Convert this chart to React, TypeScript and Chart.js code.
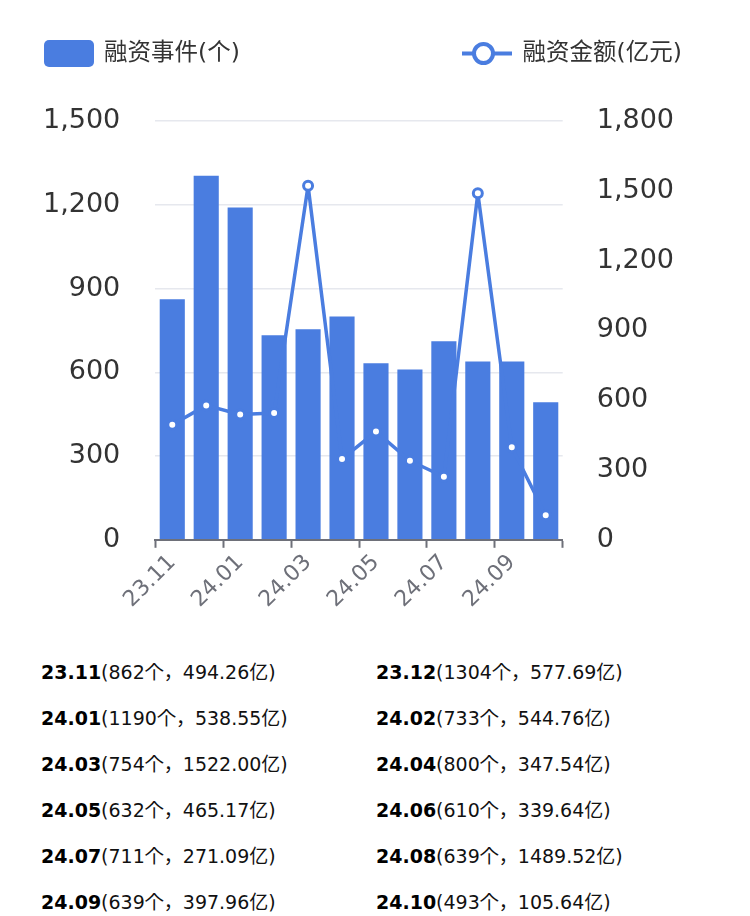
import React, { useEffect, useRef } from 'react';
import { Chart, registerables } from 'chart.js';

Chart.register(...registerables);

const CATEGORIES = ['23.11', '23.12', '24.01', '24.02', '24.03', '24.04', '24.05', '24.06', '24.07', '24.08', '24.09', '24.10'];
const EVENT_COUNTS = [862, 1304, 1190, 733, 754, 800, 632, 610, 711, 639, 639, 493];
const AMOUNTS = [494.26, 577.69, 538.55, 544.76, 1522.0, 347.54, 465.17, 339.64, 271.09, 1489.52, 397.96, 105.64];
const LEFT_TICKS = [0, 300, 600, 900, 1200, 1500];
const RIGHT_TICKS = [0, 300, 600, 900, 1200, 1500, 1800];
const SERIES_NAMES = ['融资事件(个)', '融资金额(亿元)'];

const BLUE = '#4a7de0';
const FONT = '"DejaVu Sans", "Noto Sans CJK SC", sans-serif';
const LIST_FONT = '"DejaVu Sans", "Noto Sans CJK KR", sans-serif';

const legendPlugin = {
  id: 'customLegend',
  afterDraw(chart: any) {
    const ctx = chart.ctx as CanvasRenderingContext2D;
    const ds = chart.data.datasets;
    ctx.save();
    ctx.font = `23.5px ${FONT}`;
    ctx.textBaseline = 'middle';
    ctx.textAlign = 'left';
    const barDs = ds.find((d: any) => d.type !== 'line');
    const lineDs = ds.find((d: any) => d.type === 'line');
    // bar item
    ctx.fillStyle = barDs.backgroundColor;
    ctx.beginPath();
    (ctx as any).roundRect(36, 32, 50, 27, 5);
    ctx.fill();
    ctx.fillStyle = '#333';
    ctx.fillText(barDs.label, 96, 46);
    // line item
    ctx.strokeStyle = lineDs.borderColor;
    ctx.lineWidth = 4;
    ctx.beginPath();
    ctx.moveTo(454, 45.5);
    ctx.lineTo(504, 45.5);
    ctx.stroke();
    ctx.beginPath();
    ctx.arc(475.5, 45.5, 9.5, 0, Math.PI * 2);
    ctx.fillStyle = '#fff';
    ctx.fill();
    ctx.stroke();
    ctx.fillStyle = '#333';
    ctx.fillText(lineDs.label, 514.5, 46);
    ctx.restore();
  },
};

function ChartBox() {
  const ref = useRef<HTMLCanvasElement | null>(null);
  useEffect(() => {
    if (!ref.current) return;
    Chart.defaults.font.family = FONT;
    const chart = new Chart(ref.current, {
      type: 'bar',
      data: {
        labels: CATEGORIES,
        datasets: [
          {
            type: 'bar',
            label: SERIES_NAMES[0],
            data: EVENT_COUNTS,
            backgroundColor: BLUE,
            borderWidth: 0,
            barPercentage: 0.74,
            categoryPercentage: 1,
            yAxisID: 'y',
            order: 1,
          },
          {
            type: 'line',
            label: SERIES_NAMES[1],
            data: AMOUNTS,
            borderColor: BLUE,
            backgroundColor: BLUE,
            borderWidth: 3.5,
            borderJoinStyle: 'round',
            pointRadius: 4.5,
            pointBorderWidth: 3,
            pointBackgroundColor: '#fff',
            pointBorderColor: BLUE,
            tension: 0,
            yAxisID: 'y1',
            order: 0,
          },
        ] as any,
      },
      options: {
        animation: false,
        responsive: true,
        maintainAspectRatio: false,
        layout: { padding: { top: 113, left: 0, right: 34, bottom: 0 } },
        plugins: { legend: { display: false }, tooltip: { enabled: false } },
        scales: {
          x: {
            type: 'category',
            offset: true,
            grid: {
              offset: true,
              drawOnChartArea: false,
              drawTicks: true,
              tickLength: 8,
              tickWidth: 2,
              tickColor: (c: any) => (c.index === undefined || c.index % 2 === 0 ? '#6e7079' : 'rgba(0,0,0,0)'),
            },
            border: { display: true, color: '#6e7079', width: 2 },
            ticks: {
              autoSkip: false,
              maxRotation: 45,
              minRotation: 45,
              color: '#6e7079',
              font: { size: 22 },
              padding: 2,
              callback: (_v: any, i: number) => (i % 2 === 0 ? CATEGORIES[i] : ''),
            },
          },
          y: {
            position: 'left',
            min: 0,
            max: 1500,
            afterBuildTicks: (s: any) => {
              s.ticks = LEFT_TICKS.map((v) => ({ value: v }));
            },
            ticks: { color: '#333', font: { size: 27 }, padding: 35 },
            grid: { color: '#e6e8ee', drawTicks: false, lineWidth: 1.5 },
            border: { display: false },
          },
          y1: {
            position: 'right',
            min: 0,
            max: 1800,
            afterBuildTicks: (s: any) => {
              s.ticks = RIGHT_TICKS.map((v) => ({ value: v }));
            },
            ticks: { color: '#333', font: { size: 27 }, padding: 34 },
            grid: { drawOnChartArea: false, drawTicks: false },
            border: { display: false },
          },
        },
      } as any,
      plugins: [legendPlugin],
    });
    return () => chart.destroy();
  }, []);
  return (
    <div style={{ position: 'relative', width: 734, height: 607 }}>
      <canvas ref={ref} />
    </div>
  );
}

export default function App() {
  return (
    <div>
      <ChartBox />
      <div
        style={{
          marginTop: 34,
          paddingLeft: 33,
          display: 'grid',
          gridTemplateColumns: '335px 335px',
          fontFamily: LIST_FONT,
          fontSize: 19,
          color: '#111',
        }}
      >
        {CATEGORIES.map((c, i) => (
          <div key={c} style={{ lineHeight: '46px', height: 46, whiteSpace: 'nowrap' }}>
            <span style={{ fontWeight: 'bold', color: '#000' }}>{c}</span>
            <span>{`(${EVENT_COUNTS[i]}个，${AMOUNTS[i].toFixed(2)}亿)`}</span>
          </div>
        ))}
      </div>
    </div>
  );
}
